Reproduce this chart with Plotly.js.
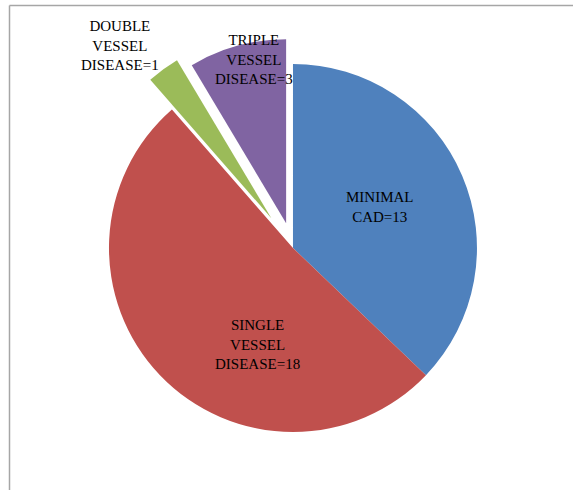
<!DOCTYPE html>
<html>
<head>
<meta charset="utf-8">
<script src="https://cdn.plot.ly/plotly-3.0.1.min.js"></script>
<style>
  html, body { margin: 0; padding: 0; background: #ffffff; }
  #chart { width: 573px; height: 490px; }
</style>
</head>
<body>
<div id="chart"></div>
<script>
// Patients by extent of coronary artery disease
const categories = ['MINIMAL CAD', 'SINGLE VESSEL DISEASE', 'DOUBLE VESSEL DISEASE', 'TRIPLE VESSEL DISEASE'];
const counts = [13, 18, 1, 3];
const sliceColors = ['#4F81BD', '#C0504D', '#9BBB59', '#8064A2'];
const pulls = [0, 0, 0.2, 0.14];

// label placement (paper coordinates) for each slice's caption
const labelX = [0.664, 0.450, 0.2086, 0.444];
const labelY = [0.578, 0.296, 0.908, 0.878];

const labelFont = { family: 'Liberation Serif, Times New Roman, serif', size: 15, color: '#000000' };

const trace = {
  type: 'pie',
  labels: categories,
  values: counts,
  sort: false,
  direction: 'clockwise',
  rotation: 0,
  pull: pulls,
  marker: { colors: sliceColors, line: { width: 0 } },
  textinfo: 'none',
  hoverinfo: 'label+value',
  showlegend: false,
  domain: { x: [0.1113, 0.9113], y: [0.0433, 0.9445] }
};

const annotations = categories.map((c, i) => ({
  xref: 'paper', yref: 'paper',
  x: labelX[i], y: labelY[i],
  xanchor: 'center', yanchor: 'middle',
  text: c.split(' ').join('<br>') + '=' + counts[i],
  showarrow: false,
  font: labelFont,
  align: 'center'
}));

const frameColor = '#a6a6a6';
const layout = {
  width: 573,
  height: 490,
  margin: { l: 0, r: 0, t: 0, b: 0 },
  paper_bgcolor: '#ffffff',
  plot_bgcolor: '#ffffff',
  showlegend: false,
  annotations: annotations,
  shapes: [
    { type: 'line', xref: 'paper', yref: 'paper', x0: 9.5 / 573, x1: 1, y0: 1 - 5.5 / 490, y1: 1 - 5.5 / 490, line: { color: frameColor, width: 1.5 } },
    { type: 'line', xref: 'paper', yref: 'paper', x0: 9.5 / 573, x1: 9.5 / 573, y0: 0, y1: 1 - 5.5 / 490, line: { color: frameColor, width: 1.5 } }
  ]
};

Plotly.newPlot('chart', [trace], layout, { displayModeBar: false, staticPlot: true });
</script>
</body>
</html>
